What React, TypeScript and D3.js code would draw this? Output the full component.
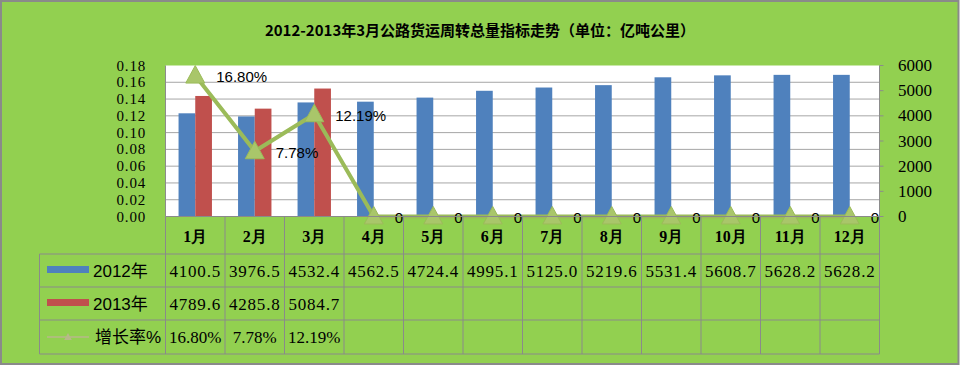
import React from 'react'
import * as d3 from 'd3'

// chart data
const months = ['1月', '2月', '3月', '4月', '5月', '6月', '7月', '8月', '9月', '10月', '11月', '12月']
const values2012 = [4100.5, 3976.5, 4532.4, 4562.5, 4724.4, 4995.1, 5125.0, 5219.6, 5531.4, 5608.7, 5628.2, 5628.2]
const values2013 = [4789.6, 4285.8, 5084.7]
const growth = [0.168, 0.0778, 0.1219, 0, 0, 0, 0, 0, 0, 0, 0, 0]
const growthLabels = ['16.80%', '7.78%', '12.19%', '0', '0', '0', '0', '0', '0', '0', '0', '0']
const tableGrowth = ['16.80%', '7.78%', '12.19%']
const leftTicks = [0, 0.02, 0.04, 0.06, 0.08, 0.1, 0.12, 0.14, 0.16, 0.18]
const rightTicks = [0, 1000, 2000, 3000, 4000, 5000, 6000]

const width = 960, height = 365
const left = 165.5, right = 879.5, top = 65.5, bottom = 216.5
const tableLeft = 39.5
const rowLines = [254, 287, 320, 354]

const BLUE = '#4F81BD', RED = '#C0504D', GREEN = '#9BBB59'
const serif = '"Liberation Serif", "Times New Roman", serif'
const sans = '"Liberation Sans", "Noto Sans CJK SC", sans-serif'

export default function App() {
  const x = d3.scaleBand().domain(months).range([left, right])
  const bw = x.bandwidth()
  const x1 = d3.scaleBand().domain(['2012', '2013']).range([(bw - 33.4) / 2, (bw + 33.4) / 2])
  const yL = d3.scaleLinear().domain([0, 0.18]).range([bottom, top])
  const yR = d3.scaleLinear().domain([0, 6000]).range([bottom, top])
  const cx = (m: string) => (x(m) as number) + bw / 2

  const line = d3.line<number>()
    .x((_, i) => cx(months[i]))
    .y(d => yL(d))

  const tri = (px: number, py: number, s: number) =>
    `M${px},${py - s}L${px + s * 0.95},${py + s * 0.75}L${px - s * 0.95},${py + s * 0.75}Z`

  return (
    <div style={{ position: 'fixed', left: 0, top: 0 }}>
      <svg width={width} height={height} style={{ display: 'block' }}>
        <rect x={1} y={1} width={width - 2.5} height={height - 2} fill="#92D050" stroke="#8a8a8a" strokeWidth={2} />
        <text x={480} y={29} textAnchor="middle" dominantBaseline="central"
          fontFamily='"Noto Sans CJK SC", sans-serif' fontWeight="bold" fontSize={15}>
          2012-2013年3月公路货运周转总量指标走势（单位：亿吨公里）
        </text>

        {/* plot area */}
        <rect x={left} y={top} width={right - left} height={bottom - top} fill="#fff" />
        {leftTicks.slice(1, -1).map(t => (
          <line key={t} x1={left} x2={right} y1={yL(t)} y2={yL(t)} stroke="#a6a6a6" strokeWidth={1} />
        ))}

        {/* bars */}
        {values2012.map((v, i) => (
          <rect key={'a' + i} x={(x(months[i]) as number) + (x1('2012') as number)} y={yR(v)}
            width={x1.bandwidth()} height={bottom - yR(v)} fill={BLUE} />
        ))}
        {values2013.map((v, i) => (
          <rect key={'b' + i} x={(x(months[i]) as number) + (x1('2013') as number)} y={yR(v)}
            width={x1.bandwidth()} height={bottom - yR(v)} fill={RED} />
        ))}

        {/* axes lines */}
        <line x1={left} x2={left} y1={top} y2={bottom} stroke="#8c8c8c" />
        <line x1={right} x2={right} y1={top} y2={bottom} stroke="#8c8c8c" />
        {rightTicks.map(t => (
          <line key={t} x1={right} x2={right + 4} y1={yR(t)} y2={yR(t)} stroke="#8c8c8c" />
        ))}
        {leftTicks.map(t => (
          <text key={t} x={146} y={yL(t)} textAnchor="end" dominantBaseline="central"
            fontFamily={serif} fontSize={15} letterSpacing={0.8}>{t.toFixed(2)}</text>
        ))}
        {rightTicks.map(t => (
          <text key={t} x={898} y={yR(t)} dominantBaseline="central"
            fontFamily={serif} fontSize={17}>{t}</text>
        ))}

        {/* growth line */}
        <path d={line(growth) as string} fill="none" stroke={GREEN} strokeWidth={4} strokeLinejoin="round" />
        {growth.map((g, i) => (
          <path key={'m' + i} d={tri(cx(months[i]), yL(g), 10)} fill="#a9c66a" stroke={GREEN} strokeWidth={1} />
        ))}
        {growth.map((g, i) => (
          <text key={'l' + i} x={cx(months[i]) + 21} y={yL(g) + 1} dominantBaseline="central"
            fontFamily={sans} fontSize={15}>{growthLabels[i]}</text>
        ))}

        {/* data table */}
        <g stroke="#8a8a8a" strokeWidth={1}>
          <line x1={left} x2={right} y1={bottom} y2={bottom} />
          {rowLines.map(r => <line key={r} x1={tableLeft} x2={right} y1={r} y2={r} />)}
          <line x1={tableLeft} x2={tableLeft} y1={rowLines[0]} y2={rowLines[3]} />
          {months.map(m => (
            <line key={m} x1={(x(m) as number) + bw} x2={(x(m) as number) + bw} y1={bottom} y2={rowLines[3]} />
          ))}
          <line x1={left} x2={left} y1={bottom} y2={rowLines[3]} />
        </g>
        {months.map(m => (
          <text key={m} x={cx(m)} y={236} textAnchor="middle" dominantBaseline="central"
            fontFamily={serif} fontWeight="bold" fontSize={16}>{m}</text>
        ))}
        {values2012.map((v, i) => (
          <text key={'t1' + i} x={cx(months[i])} y={271} textAnchor="middle" dominantBaseline="central"
            fontFamily={serif} fontSize={17} letterSpacing={0.8}>{v.toFixed(1)}</text>
        ))}
        {values2013.map((v, i) => (
          <text key={'t2' + i} x={cx(months[i])} y={304} textAnchor="middle" dominantBaseline="central"
            fontFamily={serif} fontSize={17} letterSpacing={0.8}>{v.toFixed(1)}</text>
        ))}
        {tableGrowth.map((g, i) => (
          <text key={'t3' + i} x={cx(months[i])} y={337} textAnchor="middle" dominantBaseline="central"
            fontFamily={serif} fontSize={17}>{g}</text>
        ))}

        {/* legend keys */}
        <rect x={47} y={266} width={42} height={7} fill={BLUE} />
        <rect x={47} y={299} width={42} height={7} fill={RED} />
        <line x1={47} x2={89} y1={337} y2={337} stroke="#b7b98a" strokeWidth={1.5} />
        <path d={tri(68, 337, 4)} fill="#b7b98a" />
        <text x={93} y={271} dominantBaseline="central" fontFamily={sans} fontSize={17}>2012年</text>
        <text x={93} y={304} dominantBaseline="central" fontFamily={sans} fontSize={17}>2013年</text>
        <text x={95} y={337} dominantBaseline="central" fontFamily={sans} fontSize={17}>增长率%</text>
      </svg>
    </div>
  )
}
